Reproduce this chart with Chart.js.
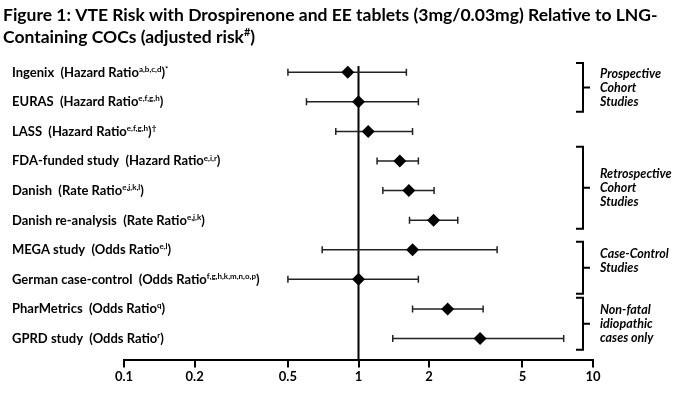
<!DOCTYPE html>
<html>
<head>
<meta charset="utf-8">
<script src="https://cdn.jsdelivr.net/npm/chart.js@4.4.1/dist/chart.umd.min.js"></script>
<style>
  html, body { margin: 0; padding: 0; background: #fff; }
  #wrap { width: 695px; height: 405px; }
</style>
</head>
<body>
<div id="wrap"><canvas id="forest" width="695" height="405"></canvas></div>
<script>
// data
const studies = ['Ingenix', 'EURAS', 'LASS', 'FDA-funded study', 'Danish', 'Danish re-analysis',
                 'MEGA study', 'German case-control', 'PharMetrics', 'GPRD study'];
const ratioTypes = ['Hazard Ratio', 'Hazard Ratio', 'Hazard Ratio', 'Hazard Ratio', 'Rate Ratio', 'Rate Ratio',
                    'Odds Ratio', 'Odds Ratio', 'Odds Ratio', 'Odds Ratio'];
const footnotes = ['a,b,c,d', 'e,f,g,h', 'e,f,g,h', 'e,i,r', 'e,j,k,l', 'e,j,k',
                   'e,l', 'f,g,h,k,m,n,o,p', 'q', 'r'];
const marks = ['*', '', '†', '', '', '', '', '', '', ''];
const ratios = [0.9, 1.0, 1.1, 1.5, 1.64, 2.09, 1.7, 1.0, 2.4, 3.3];
const lower  = [0.5, 0.6, 0.8, 1.2, 1.27, 1.65, 0.7, 0.5, 1.7, 1.4];
const upper  = [1.6, 1.8, 1.7, 1.8, 2.1, 2.65, 3.9, 1.8, 3.4, 7.5];
const tickValues = [0.1, 0.2, 0.5, 1, 2, 5, 10];
const groupNames = [['Prospective', 'Cohort', 'Studies'],
                    ['Retrospective', 'Cohort', 'Studies'],
                    ['Case-Control', 'Studies'],
                    ['Non-fatal', 'idiopathic', 'cases only']];
const titleLines = ['Figure 1: VTE Risk with Drospirenone and EE tablets (3mg/0.03mg) Relative to LNG-',
                    'Containing COCs (adjusted risk'];

// bracket extents in row units (layout only)
const groupSpans = [[-0.31, 1.34], [2.52, 5.29], [5.73, 7.49], [7.62, 9.38]];

const FONT = 'Lato';

function drawWithSup(ctx, parts, x, y, size) {
    // parts: [text, isSup]
    parts.forEach(p => {
        if (!p[0]) return;
        if (p[1]) {
            ctx.font = 'bold ' + Math.round(size * 0.6) + 'px ' + FONT;
            ctx.fillText(p[0], x, y - size * 0.38);
        } else {
            ctx.font = 'bold ' + size + 'px ' + FONT;
            ctx.fillText(p[0], x, y);
        }
        x += ctx.measureText(p[0]).width;
    });
}

const forestPlugin = {
    id: 'forest',
    beforeDraw(chart) {
        const ctx = chart.ctx;
        ctx.save();
        ctx.fillStyle = '#fff';
        ctx.fillRect(0, 0, chart.width, chart.height);
        ctx.restore();
    },
    beforeDatasetsDraw(chart) {
        const { ctx, chartArea, scales: { x, y } } = chart;
        ctx.save();
        ctx.strokeStyle = '#000';
        // reference line at 1
        ctx.lineWidth = 2;
        const x1 = x.getPixelForValue(1);
        ctx.beginPath();
        ctx.moveTo(x1, chartArea.top);
        ctx.lineTo(x1, chartArea.bottom);
        ctx.stroke();
        // confidence intervals
        ctx.lineWidth = 1.5;
        ctx.strokeStyle = '#222';
        lower.forEach((lo, i) => {
            const yy = y.getPixelForValue(i);
            const a = x.getPixelForValue(lo);
            const b = x.getPixelForValue(upper[i]);
            ctx.beginPath();
            ctx.moveTo(a, yy); ctx.lineTo(b, yy);
            ctx.moveTo(a, yy - 3.5); ctx.lineTo(a, yy + 3.5);
            ctx.moveTo(b, yy - 3.5); ctx.lineTo(b, yy + 3.5);
            ctx.stroke();
        });
        ctx.restore();
    },
    afterDraw(chart) {
        const { ctx, scales: { y } } = chart;
        ctx.save();
        ctx.fillStyle = '#000';
        ctx.textBaseline = 'alphabetic';
        ctx.textAlign = 'left';

        // title, sized to the width of the first line
        ctx.font = 'bold 100px ' + FONT;
        const tSize = 100 * 655 / ctx.measureText(titleLines[0]).width;
        drawWithSup(ctx, [[titleLines[0], false]], 3, 21, tSize);
        drawWithSup(ctx, [[titleLines[1], false], ['#', true], [')', false]], 3, 43, tSize);

        // row labels
        studies.forEach((s, i) => {
            const yy = y.getPixelForValue(i) + 4.5;
            drawWithSup(ctx, [[s + '  (' + ratioTypes[i], false], [footnotes[i], true], [')', false], [marks[i], true]],
                12, yy, 13);
        });

        // group brackets
        const bx = 583;
        groupSpans.forEach((sp, g) => {
            const t = y.getPixelForValue(sp[0]);
            const b = y.getPixelForValue(sp[1]);
            const m = (t + b) / 2;
            ctx.lineWidth = 2;
            ctx.strokeStyle = '#000';
            ctx.beginPath();
            ctx.moveTo(576, t); ctx.lineTo(bx, t); ctx.lineTo(bx, b); ctx.lineTo(576, b);
            ctx.moveTo(bx, m); ctx.lineTo(590, m);
            ctx.stroke();
            ctx.font = 'italic bold 12.5px ' + FONT;
            groupNames[g].forEach((line, k) => {
                ctx.fillText(line, 600, m - 14 + k * 14 + 4.5);
            });
        });
        ctx.restore();
    }
};

const ctx = document.getElementById('forest').getContext('2d');
new Chart(ctx, {
    type: 'scatter',
    data: {
        datasets: [{
            data: ratios.map((r, i) => ({ x: r, y: i })),
            pointStyle: 'rectRot',
            pointRadius: 6.5,
            backgroundColor: '#000',
            borderColor: '#000',
            borderWidth: 0
        }]
    },
    options: {
        responsive: false,
        animation: false,
        layout: { padding: { left: 124, right: 102, top: 66, bottom: 18 } },
        plugins: { legend: { display: false }, tooltip: { enabled: false } },
        scales: {
            x: {
                type: 'logarithmic',
                min: 0.1,
                max: 10,
                afterBuildTicks: scale => {
                    scale.ticks = tickValues.map(v => ({ value: v }));
                },
                ticks: {
                    autoSkip: false,
                    maxRotation: 0,
                    padding: 2,
                    color: '#000',
                    font: { family: FONT, size: 13, weight: 'bold' },
                    callback: v => String(v)
                },
                grid: { drawOnChartArea: false, drawTicks: true, tickLength: 7, color: '#000', lineWidth: 2 },
                border: { display: true, color: '#000', width: 2 }
            },
            y: {
                type: 'linear',
                reverse: true,
                min: -0.21,
                max: 9.74,
                display: false
            }
        }
    },
    plugins: [forestPlugin]
});
</script>
</body>
</html>
